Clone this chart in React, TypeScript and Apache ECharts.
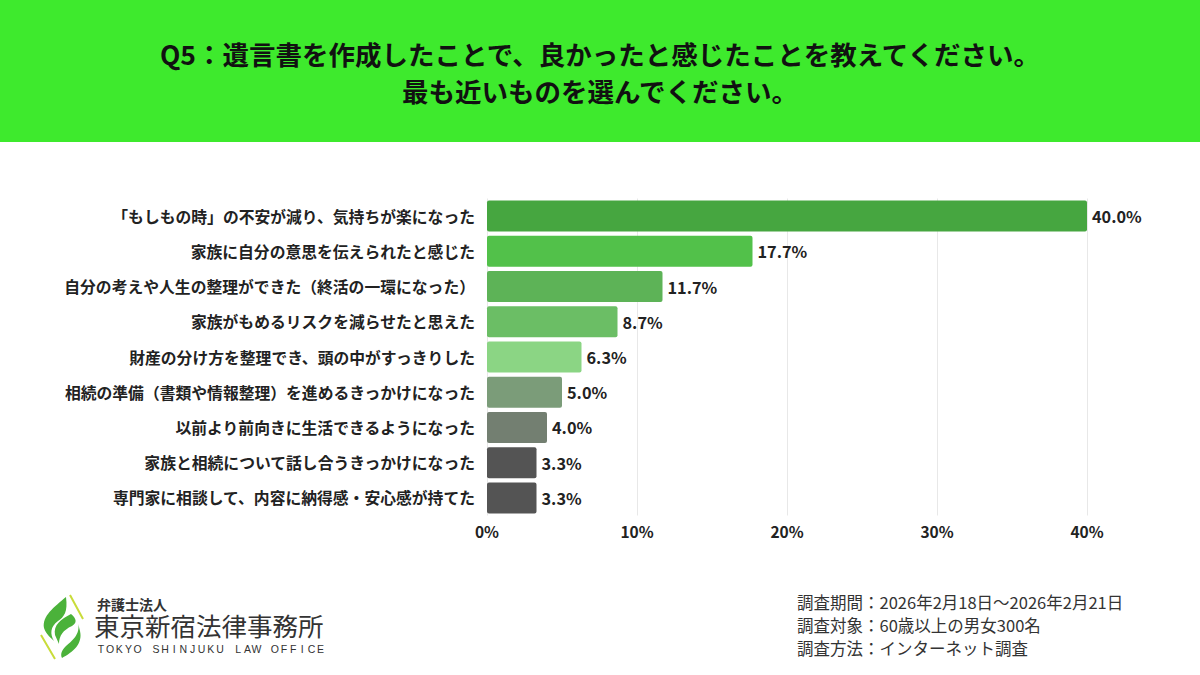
import React, { useEffect, useRef } from "react";
import * as echarts from "echarts";

const categories = [
  "「もしもの時」の不安が減り、気持ちが楽になった",
  "家族に自分の意思を伝えられたと感じた",
  "自分の考えや人生の整理ができた（終活の一環になった）",
  "家族がもめるリスクを減らせたと思えた",
  "財産の分け方を整理でき、頭の中がすっきりした",
  "相続の準備（書類や情報整理）を進めるきっかけになった",
  "以前より前向きに生活できるようになった",
  "家族と相続について話し合うきっかけになった",
  "専門家に相談して、内容に納得感・安心感が持てた",
];
const values = [40.0, 17.7, 11.7, 8.7, 6.3, 5.0, 4.0, 3.3, 3.3];
const barColors = ["#46a640", "#52c14a", "#5db357", "#6bbe65", "#8bd584", "#7b9c79", "#737f71", "#545454", "#545454"];
const xTicks = [0, 10, 20, 30, 40];

const titleLines = ["Q5：遺言書を作成したことで、良かったと感じたことを教えてください。", "最も近いものを選んでください。"];
const surveyNotes = ["調査期間：2026年2月18日〜2026年2月21日", "調査対象：60歳以上の男女300名", "調査方法：インターネット調査"];

const FONT = "'Noto Sans CJK JP', 'Noto Sans', sans-serif";
// ロゴ周りは行の高さを詰めたいので欧文フォントを先頭に
const LOGO_FONT = "'Liberation Sans', 'Noto Sans CJK JP', sans-serif";

// ロゴのマーク（簡略化）
echarts.graphic.registerShape(
  "logoLeaf",
  echarts.graphic.extendPath(
    "M26 3 C14 13 2 22 4 34 C6 40 11 44 14 47 C10 40 10 33 18 27 C24 23 28 18 26 3 Z " +
      "M31 20 C21 25 13 31 15 41 L19 50 C19 42 23 36 32 32 C37 29 37 25 31 20 Z " +
      "M38 29 C41 40 31 48 26 52 C22 56 20 60 22 64 C33 58 43 50 40 37 Z",
    {}
  )
);
echarts.graphic.registerShape(
  "logoLine",
  echarts.graphic.extendPath("M30 1 L43 25 M1 41 L15 65", {})
);

const App: React.FC = () => {
  const ref = useRef<HTMLDivElement>(null);

  useEffect(() => {
    if (!ref.current) return;
    const chart = echarts.init(ref.current, null, { renderer: "svg" });

    // 英文ロゴは字間を広げるため1文字ずつ置く
    const officeEn = "TOKYO SHINJUKU LAW OFFICE";
    const enChars = officeEn
      .split("")
      .map((c, i) => ({ c, i }))
      .filter(({ c }) => c !== " ")
      .map(({ c, i }) => ({
        type: "text",
        x: 101 + i * 9.15,
        y: 649,
        style: {
          text: c,
          fontSize: 10.5,
          fontFamily: LOGO_FONT,
          fill: "#333",
          textAlign: "center",
          textVerticalAlign: "middle",
        },
      }));

    chart.setOption({
      animation: false,
      backgroundColor: "#ffffff",
      grid: { left: 487, right: 113, top: 198.5, height: 317, containLabel: false },
      xAxis: {
        type: "value",
        min: 0,
        max: 40,
        interval: 10,
        axisLine: { show: false },
        axisTick: { show: false },
        splitLine: { lineStyle: { color: "#e8e8e8", width: 1 } },
        axisLabel: {
          formatter: (v: number) => (xTicks.includes(v) ? `${v}%` : ""),
          fontSize: 15.5,
          fontWeight: "bold",
          color: "#222",
          fontFamily: FONT,
          margin: 8,
        },
      },
      yAxis: {
        type: "category",
        inverse: true,
        data: categories,
        axisLine: { show: false },
        axisTick: { show: false },
        axisLabel: {
          fontSize: 15.8,
          fontWeight: "bold",
          color: "#222",
          fontFamily: FONT,
          margin: 12,
        },
      },
      series: [
        {
          type: "bar",
          barWidth: 31,
          data: values.map((v, i) => ({ value: v, itemStyle: { color: barColors[i] } })),
          itemStyle: { borderRadius: 2 },
          label: {
            show: true,
            position: "right",
            distance: 5,
            formatter: (p: any) => `${Number(p.value).toFixed(1)}%`,
            fontSize: 16.3,
            fontWeight: "bold",
            color: "#222",
            fontFamily: FONT,
          },
        },
      ],
      graphic: [
        {
          type: "rect",
          shape: { x: 0, y: 0, width: 1200, height: 142 },
          style: { fill: "#3eea2d" },
          z: -10,
        },
        {
          type: "text",
          x: 600,
          y: 35,
          style: {
            text: titleLines.join("\n"),
            fontSize: 26.5,
            fontWeight: "bold",
            fontFamily: FONT,
            fill: "#111",
            textAlign: "center",
            lineHeight: 37,
          },
        },
        {
          type: "text",
          x: 797,
          y: 590.5,
          style: {
            text: surveyNotes.join("\n"),
            fontSize: 16.5,
            fontFamily: FONT,
            fill: "#333",
            lineHeight: 23,
          },
        },
        {
          type: "logoLeaf",
          x: 40,
          y: 594,
          style: { fill: "#4bb23a", stroke: "none" },
        },
        {
          type: "logoLine",
          x: 40,
          y: 594,
          style: { fill: "none", stroke: "#c9dc3a", lineWidth: 2 },
        },
        {
          type: "text",
          x: 97,
          y: 605,
          style: { text: "弁護士法人", fontSize: 14, fontWeight: "bold", fontFamily: LOGO_FONT, fill: "#333", textVerticalAlign: "middle" },
        },
        {
          type: "text",
          x: 94,
          y: 627,
          style: { text: "東京新宿法律事務所", fontSize: 25.5, fontFamily: LOGO_FONT, fill: "#333", textVerticalAlign: "middle" },
        },
        ...enChars,
      ],
    });

    return () => {
      chart.dispose();
    };
  }, []);

  return <div ref={ref} style={{ position: "fixed", left: 0, top: 0, width: 1200, height: 675 }} />;
};

export default App;
